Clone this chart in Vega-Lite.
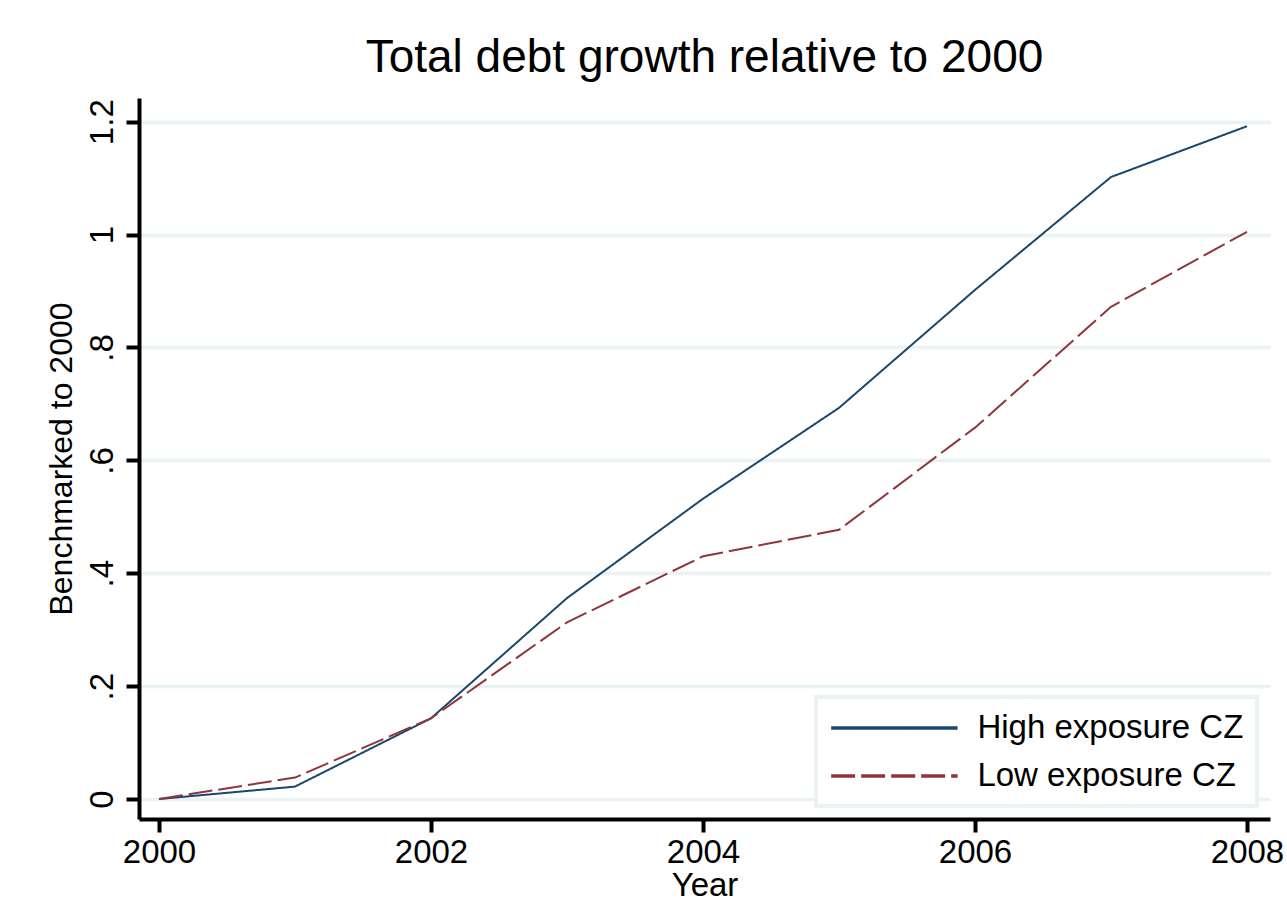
{
  "$schema": "https://vega.github.io/schema/vega-lite/v6.json",
  "width": 1131,
  "height": 721,
  "autosize": {"type": "none"},
  "padding": {"left": 139, "top": 98, "right": 17, "bottom": 83},
  "background": "white",
  "title": {"text": "Total debt growth relative to 2000", "fontSize": 46, "font": "Liberation Sans", "fontWeight": "normal", "color": "#000000", "anchor": "middle", "offset": 16},
  "data": {"values": [
    {"year": 2000, "value": 0, "series": "High exposure CZ"},
    {"year": 2001, "value": 0.022, "series": "High exposure CZ"},
    {"year": 2002, "value": 0.143, "series": "High exposure CZ"},
    {"year": 2003, "value": 0.356, "series": "High exposure CZ"},
    {"year": 2004, "value": 0.532, "series": "High exposure CZ"},
    {"year": 2005, "value": 0.693, "series": "High exposure CZ"},
    {"year": 2006, "value": 0.902, "series": "High exposure CZ"},
    {"year": 2007, "value": 1.102, "series": "High exposure CZ"},
    {"year": 2008, "value": 1.192, "series": "High exposure CZ"},
    {"year": 2000, "value": 0, "series": "Low exposure CZ"},
    {"year": 2001, "value": 0.038, "series": "Low exposure CZ"},
    {"year": 2002, "value": 0.143, "series": "Low exposure CZ"},
    {"year": 2003, "value": 0.313, "series": "Low exposure CZ"},
    {"year": 2004, "value": 0.430, "series": "Low exposure CZ"},
    {"year": 2005, "value": 0.477, "series": "Low exposure CZ"},
    {"year": 2006, "value": 0.658, "series": "Low exposure CZ"},
    {"year": 2007, "value": 0.872, "series": "Low exposure CZ"},
    {"year": 2008, "value": 1.005, "series": "Low exposure CZ"}
  ]},
  "mark": {"type": "line", "strokeWidth": 2},
  "encoding": {
    "x": {
      "field": "year", "type": "quantitative",
      "scale": {"domain": [1999.853, 2008.169], "nice": false, "zero": false},
      "axis": {
        "values": [2000, 2002, 2004, 2006, 2008], "format": "d", "title": "Year",
        "grid": false, "labelFlush": false, "labelOverlap": false,
        "labelPadding": 4, "titlePadding": 0
      }
    },
    "y": {
      "field": "value", "type": "quantitative",
      "scale": {"domain": [-0.0354, 1.242], "nice": false, "zero": false},
      "axis": {
        "values": [0, 0.2, 0.4, 0.6, 0.8, 1, 1.2], "format": "~g",
        "labelExpr": "datum.value > 0 && datum.value < 1 ? slice(datum.label, 1) : datum.label",
        "title": "Benchmarked to 2000", "grid": true,
        "labelAngle": -90, "labelAlign": "center", "labelBaseline": "alphabetic",
        "labelPadding": 14, "titlePadding": 8, "labelFontSize": 33, "titleFontSize": 32
      }
    },
    "color": {
      "field": "series", "type": "nominal",
      "scale": {"domain": ["High exposure CZ", "Low exposure CZ"], "range": ["#1a476f", "#90353b"]},
      "legend": {"title": null}
    },
    "strokeDash": {
      "field": "series", "type": "nominal",
      "scale": {"domain": ["High exposure CZ", "Low exposure CZ"], "range": [[1, 0], [24, 6]]},
      "legend": {"title": null}
    }
  },
  "config": {
    "view": {"stroke": null},
    "font": "Liberation Sans",
    "axis": {
      "domainColor": "#000000", "domainWidth": 4,
      "tickColor": "#000000", "tickWidth": 4, "tickSize": 13,
      "gridColor": "#EAF2F3", "gridWidth": 3.5,
      "labelFont": "Liberation Sans", "titleFont": "Liberation Sans",
      "labelFontSize": 33, "titleFontSize": 33,
      "labelColor": "#000000", "titleColor": "#000000",
      "titleFontWeight": "normal"
    },
    "legend": {
      "orient": "bottom-right", "offset": 13,
      "labelFont": "Liberation Sans", "labelFontSize": 33, "labelColor": "#000000", "labelLimit": 500,
      "symbolType": "M-4,0L4,0", "symbolSize": 1000, "symbolStrokeWidth": 3.5,
      "symbolOffset": 47.4, "labelOffset": 65,
      "padding": 13, "rowPadding": 13,
      "strokeColor": "#EAF2F3", "strokeWidth": 4, "fillColor": "#ffffff"
    }
  }
}
